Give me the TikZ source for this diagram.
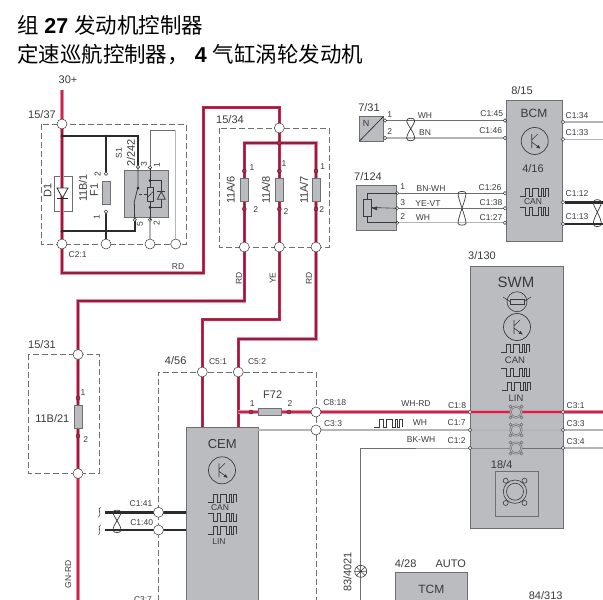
\documentclass[tikz,border=0pt]{standalone}
\usepackage{fontspec}
\setmainfont{Liberation Sans}
\newfontfamily\cjk{Noto Sans CJK SC}
\pgfdeclarelayer{boxes}
\pgfdeclarelayer{wires}
\pgfsetlayers{boxes,wires,main}
\definecolor{boxgray}{HTML}{BBBCBF}
\definecolor{edgegray}{HTML}{6E6F72}
\definecolor{wirered}{HTML}{C4264D}
\definecolor{wirepink}{HTML}{E98BA0}
\definecolor{wirecore}{HTML}{8E1F3E}
\definecolor{wiredark}{HTML}{2B2B2D}
\definecolor{wiregray}{HTML}{B4B5B7}
\definecolor{txt}{HTML}{3A3A3C}
\tikzset{
  x=1pt,y=-1pt,
  every node/.style={inner sep=0pt,outer sep=0pt,text=txt},
  gbox/.style={draw=edgegray,fill=boxgray,line width=0.8pt,anchor=north west},
  dashbox/.style={draw=edgegray,dash pattern=on 6pt off 3pt,line width=0.6pt},
  bigterm/.style={circle,draw=txt,fill=white,line width=0.5pt,minimum size=10pt},
  smallterm/.style={circle,draw=txt,fill=white,line width=0.5pt,minimum size=3.6pt},
  reddot/.style={circle,draw=wiredark,fill=wirered,line width=0.4pt,minimum size=4pt},
  fuse/.style={draw=edgegray,fill=boxgray,line width=0.6pt},
  lbl/.style={font=\fontsize{11}{11}\selectfont},
  slbl/.style={font=\fontsize{8.5}{9}\selectfont},
  tlbl/.style={font=\fontsize{21.5}{23}\selectfont,anchor=base west,text=black},
  brightwire/.style={line width=3.4pt,draw=wirepink,postaction={draw=wirered,line width=2.6pt}},
  redwire/.style={line width=3.4pt,draw=wirepink,postaction={draw=wirered,line width=2.6pt},postaction={draw=wirecore,line width=1.1pt}},
  darkwire/.style={line width=1.7pt,draw=wiredark},
  fatwire/.style={line width=2.8pt,draw=wiredark},
  thinwire/.style={line width=0.8pt,draw=edgegray},
  graywire/.style={line width=1.3pt,draw=wiregray},
  thinsym/.style={line width=0.6pt,draw=txt},
  ringsym/.style={line width=0.5pt,draw=edgegray},
  sqa/.pic={\draw[thinsym] (-14,4)--(-9,4)--(-9,-4)--(-5,-4)--(-5,4)--(-2,4)--(-2,-4)--(4,-4)--(4,4)--(7,4)--(7,-4)--(9,-4)--(9,4)--(11,4)--(11,-4)--(14,-4)--(14,4);},
  sqb/.pic={\draw[thinsym] (-14,-4)--(-9,-4)--(-9,4)--(-5,4)--(-5,-4)--(-2,-4)--(-2,4)--(4,4)--(4,-4)--(7,-4)--(7,4)--(9,4)--(9,-4)--(11,-4)--(11,4)--(14,4)--(14,-4);},
  trans/.pic={\draw[thinsym,line width=0.7pt] (0,0) circle (13.5);
    \draw[thinsym] (-3,-7)--(-3,7) (-3,-1)--(3,-7) (-3,1)--(5,7);
    \fill[txt] (5.5,7.5)--(1.5,6.5)--(3.8,3.8)--cycle;},
  twist/.pic={\draw[thinsym,line width=0.7pt] (-4,0) .. controls (-4,-3) and (4,-3) .. (4,0) .. controls (4,4) and (-4,12) .. (-4,18) .. controls (-4,21) and (4,21) .. (4,18) .. controls (4,12) and (-4,4) .. (-4,0);},
  talltwist/.pic={\draw[thinsym,line width=0.7pt] (-4,0) .. controls (-4,-2.5) and (4,-2.5) .. (4,0) .. controls (4,6) and (-4,24) .. (-4,30) .. controls (-4,32.5) and (4,32.5) .. (4,30) .. controls (4,24) and (-4,6) .. (-4,0);},
  ring/.pic={\draw[ringsym,fill=boxgray] (-5.5,-5.5) circle (1.5) (5.5,-5.5) circle (1.5) (-5.5,5.5) circle (1.5) (5.5,5.5) circle (1.5);
    \draw[ringsym,fill=boxgray] (0,0) circle (6.2); \draw[ringsym,fill=boxgray] (0,0) circle (4.8);},
  squig/.pic={\draw[thinsym] (1,-5) .. controls (-3,-3) and (3,1) .. (-1,5);},
}
\begin{document}
\begin{tikzpicture}
\useasboundingbox (0,0) rectangle (603,600);

% ---------- titles
\node[tlbl] (title1) at (17,33) {{\cjk 组} \textbf{27} {\cjk 发动机控制器}};
\node[tlbl] (title2) at (17,62) {{\cjk 定速巡航控制器，} \textbf{4} {\cjk 气缸涡轮发动机}};

% ---------- boxes
\begin{pgfonlayer}{boxes}
\draw[dashbox] (41,124) rectangle (186,244);
\draw[dashbox] (219,128) rectangle (329,247);
\draw[dashbox] (28,354) rectangle (99,473);
\draw[dashbox] (158,610) -- (158,372) -- (316,372) -- (316,610);
\node[gbox,minimum width=44.5pt,minimum height=47.5pt] (relay) at (124,170) {};
\node[gbox,minimum width=72pt,minimum height=190pt] (cem) at (186,427.5) {};
\node[gbox,minimum width=56pt,minimum height=141pt] (bcm) at (506,100) {};
\node[gbox,minimum width=93pt,minimum height=262pt] (swm) at (470,266) {};
\node[gbox,minimum width=24pt,minimum height=24.5pt] (sens) at (359.5,116.5) {};
\node[gbox,minimum width=39.5pt,minimum height=45pt] (pot) at (356.5,185.5) {};
\node[gbox,minimum width=72pt,minimum height=40pt] (tcm) at (395.3,572.3) {};
\node[draw=edgegray,line width=0.7pt,minimum width=43pt,minimum height=45pt,anchor=north west] (horn) at (495.7,471.7) {};
\end{pgfonlayer}

% ---------- terminals and free ends
\coordinate (top30) at (62,90);
\node[bigterm] (t1537) at (62,124) {};
\node[bigterm] (c21) at (62,244) {};
\node[bigterm] (c22) at (106,244) {};
\node[bigterm] (c23) at (150,244) {};
\node[bigterm] (c24) at (175.7,244) {};
\node[smallterm] (f1a) at (106,173.7) {};
\node[smallterm] (f1b) at (106,211.7) {};
\node[smallterm] (s3) at (138,167) {};
\node[smallterm] (s1) at (150,167.5) {};
\node[smallterm] (s5) at (134.7,219.7) {};
\node[smallterm] (s2) at (150,219.7) {};
\node[bigterm] (t1534) at (279.3,128) {};
\node[reddot] (bus) at (279.3,143) {};
\node[reddot] (a6a) at (244.3,171) {};
\node[reddot] (a8a) at (279.3,171) {};
\node[reddot] (a7a) at (316,171) {};
\node[reddot] (a6b) at (244.3,209) {};
\node[reddot] (a8b) at (279.3,209) {};
\node[reddot] (a7b) at (316,209) {};
\node[bigterm] (o6) at (244.3,247) {};
\node[bigterm] (o8) at (279.3,247) {};
\node[bigterm] (o7) at (316,247) {};
\node[bigterm] (t1531) at (78,354.5) {};
\node[bigterm] (b1531) at (78,473.5) {};
\node[reddot] (b1) at (78,398) {};
\node[reddot] (b2) at (78,436) {};
\node[bigterm] (c51) at (202.3,372) {};
\node[bigterm] (c52) at (238.3,372) {};
\node[bigterm] (c818) at (316,412) {};
\node[bigterm] (c33) at (316,430) {};
\node[reddot] (f72a) at (251,412) {};
\node[reddot] (f72b) at (289,412) {};
\node[bigterm] (c141) at (158.5,512.3) {};
\node[bigterm] (c140) at (158.5,530) {};
\node[smallterm] (w18) at (470,412) {};
\node[smallterm] (w17) at (470,430) {};
\node[smallterm] (w12) at (470,448) {};
\node[smallterm] (e31) at (563,412) {};
\node[smallterm] (e33) at (563,430) {};
\node[smallterm] (e34) at (563,448) {};
\node[smallterm] (bl45) at (505,120.5) {};
\node[smallterm] (bl46) at (505,138) {};
\node[smallterm] (bl26) at (505,193.3) {};
\node[smallterm] (bl38) at (505,208.3) {};
\node[smallterm] (bl27) at (505,222.7) {};
\node[smallterm] (br34) at (563,122) {};
\node[smallterm] (br33) at (563,139.3) {};
\node[smallterm] (br12) at (563,202.3) {};
\node[smallterm] (br13) at (563,224) {};
\node[smallterm] (sn1) at (385,120.5) {};
\node[smallterm] (sn2) at (385,138) {};
\node[smallterm] (p1) at (397,193.3) {};
\node[smallterm] (p3) at (397,208.3) {};
\node[smallterm] (p2) at (397,222.7) {};
\coordinate (r34) at (603,122);
\coordinate (r33) at (603,139.3);
\coordinate (r12) at (603,202.3);
\coordinate (r13) at (603,224);
\coordinate (r31) at (603,412);
\coordinate (r33b) at (603,430);
\coordinate (r34b) at (603,448);
\coordinate (l141) at (105,512.3);
\coordinate (l140) at (105,530);
\coordinate (down78) at (78,600);
\coordinate (down361) at (360.7,600);

% ---------- wires
\begin{pgfonlayer}{wires}
\draw[brightwire] (top30) -- (t1537.center);
\draw[redwire] (t1537.center) -- (c21.center) -- (62,273) -- (203.3,273) -- (203.3,107.5) -- (279.3,107.5) -- (t1534.center) -- (bus.center);
\draw[redwire] (244.3,209) |- (316,143) -- (316,209);
\draw[redwire] (bus.center) -- (o8.center);
\draw[redwire] (a6a.center) -- (o6.center) -- (244.3,301) -- (78,301) -- (b1531.center);
\draw[brightwire] (b1531.center) -- (down78);
\draw[redwire] (o8.center) -- (279.3,319.3) -- (202.3,319.3) -- (c51.center) -- (202.3,427);
\draw[redwire] (o7.center) -- (316,339) -- (238.3,339) -- (c52.center) -- (238.3,427);
\draw[brightwire] (238.3,412) -- (w18.center) -- (e31.center) -- (r31);
\draw[redwire] (a7a.center) -- (o7.center);
\draw[darkwire] (62,136) -- (138,136) -- (s3.center);
\draw[darkwire] (106,136) -- (f1a.center);
\draw[darkwire] (f1b.center) -- (c22.center);
\draw[darkwire] (62,231.3) -- (134.7,231.3) -- (s5.center);
\draw[thinwire] (s1.center) -- (150,130) -- (175.7,130);
\draw[graywire] (175.7,130) -- (c24.center);
\draw[graywire] (s2.center) -- (c23.center);
\draw[fatwire] (l141) -- (186,512.3);
\draw[darkwire] (l140) -- (186,530);
\draw[graywire] (258,430) -- (w17.center);
\draw[graywire] (w17.center) -- (e33.center) -- (r33b);
\draw[thinwire,line width=1pt] (down361) -- (360.7,448) -- (w12.center) -- (e34.center);
\draw[graywire] (e34.center) -- (r34b);
\draw[thinwire] (sn1.center) -- (bl45.center);
\draw[graywire] (sn2.center) -- (bl46.center);
\draw[thinwire] (p1.center) -- (bl26.center);
\draw[thinwire] (p3.center) -- (bl38.center);
\draw[graywire] (p2.center) -- (bl27.center);
\draw[graywire] (br34) -- (r34);
\draw[graywire] (br33) -- (r33);
\draw[fatwire] (br12) -- (r12);
\draw[darkwire] (br13) -- (r13);
\end{pgfonlayer}

% ---------- junction dots
\fill[wiredark] (62,136) circle (1.6) (106,136) circle (1.4) (62,231.3) circle (1.6) (106,231.3) circle (1.6);

% ---------- fuses
\node[fuse,minimum width=8pt,minimum height=23pt] (fF1) at (106,193) {};
\node[fuse,minimum width=8pt,minimum height=23pt] (fA6) at (244.3,190) {};
\node[fuse,minimum width=8pt,minimum height=23pt] (fA8) at (279.3,190) {};
\node[fuse,minimum width=8pt,minimum height=23pt] (fA7) at (316,190) {};
\node[fuse,minimum width=8pt,minimum height=23pt] (fB21) at (78,417) {};
\node[fuse,minimum width=23pt,minimum height=7.5pt] (fF72) at (270,412) {};

% ---------- diode D1
\node[draw=edgegray,fill=white,line width=0.6pt,minimum width=18pt,minimum height=35.5pt] (d1box) at (63.3,193.8) {};
\draw[redwire] (62,176) -- (62,211.5);
\draw[fill=white,draw=wiredark,line width=0.8pt] (57,188) -- (68,188) -- (62.5,198) -- cycle;
\draw[wiredark,line width=0.9pt] (57,198) -- (68,198);

% ---------- relay contents
\draw[thinsym,line width=0.8pt] (s3.center) -- (138,187) (134.3,201.7) -- (138,187) (134.3,201.7) -- (s5.center);
\fill[wiredark] (138,188) circle (1.5);
\draw[thinsym,densely dashed] (139,194) -- (147,194);
\draw[thinsym,line width=0.8pt] (s1.center) -- (150,187.3) (150,201.7) -- (s2.center);
\draw[thinsym,line width=0.8pt] (150,180.7) -- (161.3,180.7) -- (161.3,207.3) -- (150,207.3);
\fill[wiredark] (150,180.7) circle (1.5) (150,207.3) circle (1.5);
\draw[thinsym,line width=0.8pt] (147,187.3) rectangle (153.7,201.7);
\draw[thinsym] (147,198) -- (153.7,191);
\draw[thinsym,line width=0.8pt,fill=boxgray] (157.3,199.3) -- (165.3,199.3) -- (161.3,191.7) -- cycle;
\draw[thinsym,line width=0.8pt] (157.3,191.7) -- (165.3,191.7);

% ---------- sensor and potentiometer
\draw[thinsym,line width=0.8pt] (359.5,141) -- (383.5,116.5);
\node[slbl,font=\fontsize{9}{9}\selectfont] (sensN) at (366,123) {N};
\node[draw=txt,line width=0.7pt,minimum width=8.5pt,minimum height=17pt] (potr) at (367.5,207.5) {};
\draw[thinsym] (potr.north) -- (367.5,193.3) -- (p1.center);
\draw[thinsym] (potr.south) -- (367.5,222.7) -- (p2.center);
\draw[thinsym] (p3.center) -- (potr.east);
\fill[txt] (372,208.3) -- (377,206.3) -- (377,210.3) -- cycle;

% ---------- twists
\pic at (410.7,120.5) {twist};
\pic at (462,193.3) {talltwist};
\pic[yscale=1.2] at (597.3,202.3) {twist};
\pic at (117,512.3) {twist};
\pic at (99.5,512.3) {squig};
\pic at (99.5,530) {squig};

% ---------- module symbols
\pic at (222,470.3) {trans};
\pic at (534.7,141) {trans};
\pic at (517,327) {trans};
\pic at (222,498) {sqa};
\pic at (222,517.5) {sqb};
\pic at (222,530) {sqa};
\pic at (534,192.5) {sqa};
\pic at (534,211) {sqb};
\pic at (515,348) {sqa};
\pic at (515,372) {sqb};
\pic at (516,386) {sqa};
\pic at (388,423) {sqa};
\pic at (516,412) {ring};
\pic at (516,430) {ring};
\pic at (516,448) {ring};
\draw[thinsym] (515,491.7) circle (11.7);
\draw[thinsym] (515,491.7) circle (8.5);
\draw[thinsym,fill=boxgray] (505.7,480.7) circle (2.5) (524.5,480.7) circle (2.5) (505.7,503) circle (2.5) (524.5,503) circle (2.5);
\draw[thinsym] (517,301.7) circle (10) (503,297) -- (510,301.5) (531,297) -- (524,301.5);
\draw[thinsym,fill=boxgray] (510,299) rectangle (524,304);
\draw[thinsym] (360.7,571.3) circle (6) (354.7,571.3) -- (366.7,571.3) (356.5,567) -- (365,575.5) (356.5,575.5) -- (365,567);

% ---------- labels
\node[lbl] (l30) at (68,80) {30+};
\node[lbl] (l1537) at (42,115) {15/37};
\node[lbl] (l1534) at (230,120) {15/34};
\node[lbl] (l1531) at (42,345) {15/31};
\node[lbl] (l456) at (175.7,361) {4/56};
\node[lbl,rotate=90] (lD1) at (47.7,190) {D1};
\node[lbl,rotate=90] (l11b1) at (83,188) {11B/1};
\node[lbl,rotate=90] (lF1) at (94,190) {F1};
\node[slbl,rotate=90] (lS1) at (119,153) {S1};
\node[lbl,rotate=90] (l2242) at (131,153) {2/242};
\node[slbl,rotate=90] (lf2) at (97.7,174) {2};
\node[slbl,rotate=90] (lf1) at (96.7,216.7) {1};
\node[slbl,rotate=90] (ls3) at (144,164) {3};
\node[slbl,rotate=90] (ls1) at (157,165) {1};
\node[slbl,rotate=90] (ls5) at (140,224) {5};
\node[slbl,rotate=90] (ls2) at (156.7,223) {2};
\node[slbl] (lc21) at (77.7,255) {C2:1};
\node[slbl] (lrd) at (178,266.7) {RD};
\node[lbl,rotate=90] (l6) at (230.7,190) {11A/6};
\node[lbl,rotate=90] (l8) at (266,190) {11A/8};
\node[lbl,rotate=90] (l7) at (304,190) {11A/7};
\node[slbl] (la61) at (252,168) {1};
\node[slbl] (la81) at (284,164) {1};
\node[slbl] (la71) at (322.7,167) {1};
\node[slbl] (la62) at (255.7,210) {2};
\node[slbl] (la82) at (286,212) {2};
\node[slbl] (la72) at (321.7,210) {2};
\node[slbl,rotate=90] (lrd1) at (239,278) {RD};
\node[slbl,rotate=90] (lye) at (272.7,278) {YE};
\node[slbl,rotate=90] (lrd2) at (309,278) {RD};
\node[lbl] (lb21) at (52.3,419) {11B/21};
\node[slbl] (lb1) at (83,392.3) {1};
\node[slbl] (lb2) at (85.7,439.7) {2};
\node[slbl,rotate=90] (lgn) at (68.3,574.3) {GN-RD};
\node[slbl] (lc141) at (141,503.3) {C1:41};
\node[slbl] (lc140) at (141.7,522.7) {C1:40};
\node[slbl] (lc37) at (143,600) {C3:7};
\node[slbl] (lc51) at (218,362) {C5:1};
\node[slbl] (lc52) at (257,362) {C5:2};
\node[lbl] (lf72) at (272.7,394.3) {F72};
\node[slbl] (lf721) at (252.3,403.7) {1};
\node[slbl] (lf722) at (290,403.7) {2};
\node[slbl] (lc818) at (334.7,402.3) {C8:18};
\node[slbl] (lc33) at (333,423.3) {C3:3};
\node[slbl] (lwhrd) at (416,404) {WH-RD};
\node[slbl] (lwh) at (420,423) {WH};
\node[slbl] (lbkwh) at (421,440) {BK-WH};
\node[slbl] (lc18) at (457,405.7) {C1:8};
\node[slbl] (lc17) at (456.7,423) {C1:7};
\node[slbl] (lc12) at (456.7,441) {C1:2};
\node[slbl] (lc31) at (575.7,405.3) {C3:1};
\node[slbl] (lc33r) at (575.7,424) {C3:3};
\node[slbl] (lc34) at (575.7,441.7) {C3:4};
\node[font=\fontsize{13}{13}\selectfont] (lcem) at (222.3,444) {CEM};
\node[slbl] (lcan1) at (220,508) {CAN};
\node[slbl] (llin1) at (219,542) {LIN};
\node[lbl] (l815) at (522,91) {8/15};
\node[font=\fontsize{12}{12}\selectfont] (lbcm) at (534,113) {BCM};
\node[lbl] (l416) at (533,169) {4/16};
\node[slbl] (lcan2) at (533,202) {CAN};
\node[lbl] (l731) at (369,108) {7/31};
\node[lbl] (l7124) at (368,177) {7/124};
\node[slbl] (ln1) at (389.7,115) {1};
\node[slbl] (ln2) at (389.7,131.7) {2};
\node[slbl] (lwh1) at (425,116) {WH};
\node[slbl] (lbn) at (425,133) {BN};
\node[slbl] (lp1) at (402.7,187) {1};
\node[slbl] (lp3) at (402.7,203) {3};
\node[slbl] (lp2) at (402.7,217) {2};
\node[slbl] (lbnwh) at (431,189) {BN-WH};
\node[slbl] (lyevt) at (428,204) {YE-VT};
\node[slbl] (lwh2) at (423,218) {WH};
\node[slbl] (lc145) at (491.7,113.7) {C1:45};
\node[slbl] (lc146) at (490.7,130.7) {C1:46};
\node[slbl] (lc126) at (490,188) {C1:26};
\node[slbl] (lc138) at (491,203) {C1:38};
\node[slbl] (lc127) at (491,218) {C1:27};
\node[slbl] (lc134) at (577,116) {C1:34};
\node[slbl] (lc133) at (577,133) {C1:33};
\node[slbl] (lc112) at (577,194) {C1:12};
\node[slbl] (lc113) at (577,217) {C1:13};
\node[lbl] (l3130) at (482,256) {3/130};
\node[font=\fontsize{15}{15}\selectfont] (lswm) at (516,282) {SWM};
\node[slbl,font=\fontsize{9.5}{10}\selectfont] (lcan3) at (515,360) {CAN};
\node[slbl,font=\fontsize{9.5}{10}\selectfont] (llin3) at (516,398) {LIN};
\node[lbl] (l184) at (501.7,465) {18/4};
\node[lbl,rotate=90] (l834021) at (347.5,572) {83/4021};
\node[lbl] (l428) at (405.7,564) {4/28};
\node[lbl] (lauto) at (450.7,564) {AUTO};
\node[font=\fontsize{12}{12}\selectfont] (ltcm) at (431.3,589.5) {TCM};
\node[lbl] (l84313) at (545.7,595.5) {84/313};
\end{tikzpicture}
\end{document}
